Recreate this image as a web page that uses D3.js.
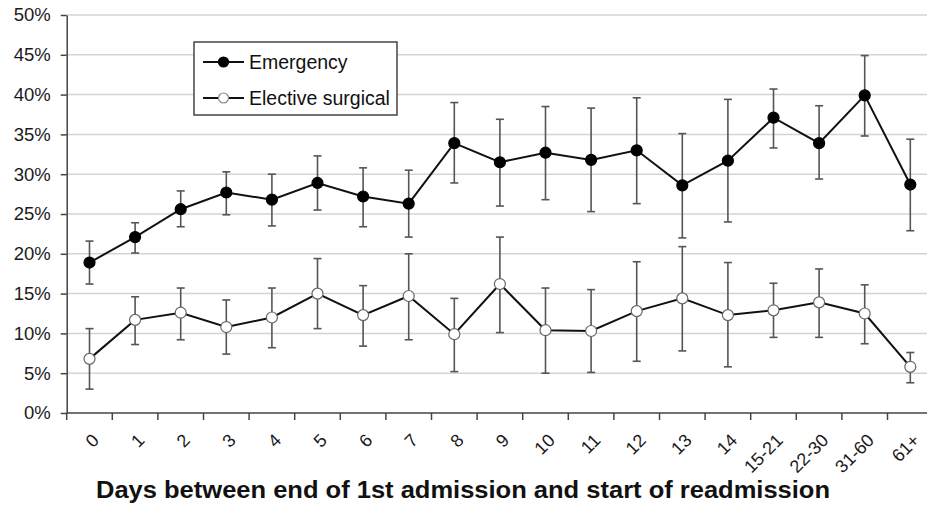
<!DOCTYPE html>
<html>
<head>
<meta charset="utf-8">
<script src="https://cdn.jsdelivr.net/npm/d3@7"></script>
<style>
  body { margin: 0; background: #fff; }
  svg { display: block; font-family: Arial, "Liberation Sans", sans-serif; }
</style>
</head>
<body>
<script>
// categories (days between admissions)
var categories = ["0","1","2","3","4","5","6","7","8","9","10","11","12","13","14","15-21","22-30","31-60","61+"];

// Emergency: value, lower, upper (%)
var emergency = [18.9, 22.1, 25.6, 27.7, 26.8, 28.9, 27.2, 26.3, 33.9, 31.5, 32.7, 31.8, 33.0, 28.6, 31.7, 37.1, 33.9, 39.9, 28.7];
var emergencyLow = [16.2, 20.1, 23.4, 24.9, 23.5, 25.5, 23.4, 22.1, 28.9, 26.0, 26.8, 25.3, 26.3, 22.0, 24.0, 33.3, 29.4, 34.8, 22.9];
var emergencyHigh = [21.6, 23.9, 27.9, 30.3, 30.0, 32.3, 30.8, 30.5, 39.0, 36.9, 38.5, 38.3, 39.6, 35.1, 39.4, 40.7, 38.6, 44.9, 34.4];

// Elective surgical: value, lower, upper (%)
var elective = [6.8, 11.7, 12.6, 10.8, 12.0, 15.0, 12.3, 14.7, 9.9, 16.2, 10.4, 10.3, 12.8, 14.4, 12.3, 12.9, 13.9, 12.5, 5.8];
var electiveLow = [3.0, 8.6, 9.2, 7.4, 8.2, 10.6, 8.4, 9.2, 5.2, 10.1, 5.0, 5.1, 6.5, 7.8, 5.8, 9.5, 9.5, 8.7, 3.8];
var electiveHigh = [10.6, 14.6, 15.7, 14.2, 15.7, 19.4, 16.0, 20.0, 14.4, 22.1, 15.7, 15.5, 19.0, 20.9, 18.9, 16.3, 18.1, 16.1, 7.6];

var yTicks = [0, 5, 10, 15, 20, 25, 30, 35, 40, 45, 50];
var xTitle = "Days between end of 1st admission and start of readmission";

const WIDTH = 927;
const HEIGHT = 505;
const LEFT = 66.7;
const TOP = 15;
const BOTTOM = 413;
const STEP = 45.6;

var svg = d3.select("body").append("svg")
    .attr("width", WIDTH)
    .attr("height", HEIGHT);

var xScale = d3.scaleBand()
    .domain(categories)
    .range([LEFT, LEFT + STEP * categories.length])
    .padding(0);

var yScale = d3.scaleLinear()
    .domain([0, 50])
    .range([BOTTOM, TOP]);

var cx = d => xScale(d) + xScale.bandwidth() / 2;

// gridlines
svg.append("g")
    .selectAll("line")
    .data(yTicks.filter(t => t > 0))
    .enter().append("line")
    .attr("x1", LEFT)
    .attr("x2", WIDTH)
    .attr("y1", d => yScale(d))
    .attr("y2", d => yScale(d))
    .attr("stroke", "#d4d4d4")
    .attr("stroke-width", 1.5);

// y axis
var yAxis = svg.append("g")
    .attr("transform", `translate(${LEFT},0)`)
    .call(d3.axisLeft(yScale).tickValues(yTicks).tickFormat(d => d + "%").tickSize(6).tickSizeOuter(0));
yAxis.select(".domain").attr("stroke", "#444").attr("stroke-width", 1.5);
yAxis.selectAll(".tick line").attr("stroke", "#444").attr("stroke-width", 1.5);
yAxis.selectAll("text")
    .attr("font-size", "18.5px")
    .attr("fill", "#1a1a1a")
    .attr("x", -16);

// x axis with ticks at category boundaries
var xAxis = svg.append("g")
    .attr("transform", `translate(0,${BOTTOM})`);
xAxis.append("line")
    .attr("x1", LEFT).attr("x2", WIDTH)
    .attr("stroke", "#444").attr("stroke-width", 1.5);
xAxis.selectAll("line.tk")
    .data(categories)
    .enter().append("line")
    .attr("class", "tk")
    .attr("x1", d => xScale(d)).attr("x2", d => xScale(d))
    .attr("y1", 0).attr("y2", 7)
    .attr("stroke", "#444").attr("stroke-width", 1.5);
xAxis.selectAll("text")
    .data(categories)
    .enter().append("text")
    .attr("transform", d => `translate(${cx(d) + 6},${24}) rotate(-45)`)
    .attr("text-anchor", "end")
    .attr("dy", "0.35em")
    .attr("font-size", "18px")
    .attr("fill", "#1a1a1a")
    .text(d => d);

// x title
svg.append("text")
    .attr("x", 463)
    .attr("y", 498)
    .attr("text-anchor", "middle")
    .attr("font-size", "23px")
    .attr("font-weight", "bold")
    .attr("fill", "#111")
    .attr("textLength", 734)
    .attr("lengthAdjust", "spacingAndGlyphs")
    .text(xTitle);

function drawSeries(vals, lows, highs, fill) {
    var g = svg.append("g");
    // error bars
    var eb = g.selectAll("g.eb")
        .data(categories)
        .enter().append("g");
    eb.append("line")
        .attr("x1", d => cx(d)).attr("x2", d => cx(d))
        .attr("y1", (d, i) => yScale(lows[i]))
        .attr("y2", (d, i) => yScale(highs[i]));
    eb.append("line")
        .attr("x1", d => cx(d) - 4).attr("x2", d => cx(d) + 4)
        .attr("y1", (d, i) => yScale(lows[i]))
        .attr("y2", (d, i) => yScale(lows[i]));
    eb.append("line")
        .attr("x1", d => cx(d) - 4).attr("x2", d => cx(d) + 4)
        .attr("y1", (d, i) => yScale(highs[i]))
        .attr("y2", (d, i) => yScale(highs[i]));
    eb.selectAll("line").attr("stroke", "#555").attr("stroke-width", 1.6);

    var line = d3.line()
        .x((d, i) => cx(categories[i]))
        .y(d => yScale(d));
    g.append("path")
        .datum(vals)
        .attr("d", line)
        .attr("fill", "none")
        .attr("stroke", "#111")
        .attr("stroke-width", 2);

    g.selectAll("circle")
        .data(vals)
        .enter().append("circle")
        .attr("cx", (d, i) => cx(categories[i]))
        .attr("cy", d => yScale(d))
        .attr("r", 5.5)
        .attr("fill", fill)
        .attr("stroke", fill === "#fff" ? "#666" : "#000")
        .attr("stroke-width", 1.2);
}

drawSeries(elective, electiveLow, electiveHigh, "#fff");
drawSeries(emergency, emergencyLow, emergencyHigh, "#000");

// legend
var legend = svg.append("g");
legend.append("rect")
    .attr("x", 194).attr("y", 42)
    .attr("width", 203).attr("height", 73)
    .attr("fill", "#fff")
    .attr("stroke", "#444")
    .attr("stroke-width", 1.5);
var items = [
    { name: "Emergency", fill: "#000", stroke: "#000", y: 62 },
    { name: "Elective surgical", fill: "#fff", stroke: "#888", y: 98 }
];
var li = legend.selectAll("g.item").data(items).enter().append("g");
li.append("line")
    .attr("x1", 203).attr("x2", 244)
    .attr("y1", d => d.y).attr("y2", d => d.y)
    .attr("stroke", "#111").attr("stroke-width", 2);
li.append("circle")
    .attr("cx", 223.5).attr("cy", d => d.y).attr("r", 5)
    .attr("fill", d => d.fill).attr("stroke", d => d.stroke).attr("stroke-width", 1.2);
li.append("text")
    .attr("x", 249).attr("y", d => d.y)
    .attr("dy", "0.35em")
    .attr("font-size", "19.5px")
    .attr("fill", "#111")
    .text(d => d.name);
</script>
</body>
</html>
